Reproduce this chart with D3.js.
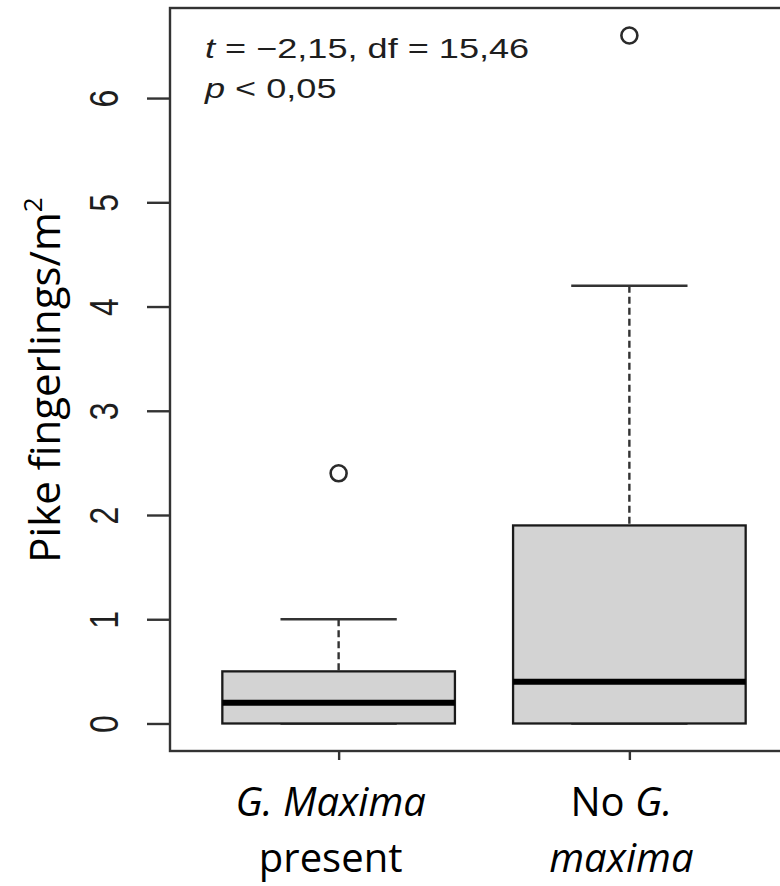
<!DOCTYPE html>
<html>
<head>
<meta charset="utf-8">
<script src="https://cdn.jsdelivr.net/npm/d3@7"></script>
<style>
  body { margin: 0; background: #fff; }
  svg { display: block; }
</style>
</head>
<body>
<div id="chart"></div>
<script>
// box stats per group
var groups = [1, 2];
var lowWhisker = [0, 0];
var q1 = [0, 0];
var medians = [0.2, 0.4];
var q3 = [0.5, 1.9];
var highWhisker = [1.0, 4.2];
var outliers = [[2.4], [6.6]];
var yTicks = [0, 1, 2, 3, 4, 5, 6];

// x labels: lines of (text, italic) pieces
var xLabels = [
    [[["G. Maxima", true]], [["present", false]]],
    [[["No ", false], ["G.", true]], [["maxima", true]]]
];
var statLines = [
    [["t", true], [" = \u22122,15, df = 15,46", false]],
    [["p", true], [" < 0,05", false]]
];

var w = 780, h = 886;
var stretch = 1.29; // the R output was widened a bit

var svg = d3.select("#chart").append("svg")
    .attr("width", w)
    .attr("height", h);

var x = d3.scaleLinear().domain([0.42, 2.58]).range([170, 798]);
var y = d3.scaleLinear().domain([-0.264, 6.864]).range([751, 8]);

var data = groups.map(function(g, i) {
    return {g: g, lo: lowWhisker[i], q1: q1[i], med: medians[i], q3: q3[i], hi: highWhisker[i], out: outliers[i]};
});

var boxW = x(1.4) - x(1);   // half of 0.8
var capW = x(1.2) - x(1);   // half of 0.4

var boxes = svg.append("g").selectAll("g")
    .data(data)
    .enter().append("g");

// whiskers
boxes.append("line")
    .attr("x1", function(d) { return x(d.g); })
    .attr("x2", function(d) { return x(d.g); })
    .attr("y1", function(d) { return y(d.hi); })
    .attr("y2", function(d) { return y(d.q3); })
    .attr("stroke", "#333")
    .attr("stroke-width", 2.4)
    .attr("stroke-dasharray", "7,4");
boxes.append("line")
    .attr("x1", function(d) { return x(d.g); })
    .attr("x2", function(d) { return x(d.g); })
    .attr("y1", function(d) { return y(d.lo); })
    .attr("y2", function(d) { return y(d.q1); })
    .attr("stroke", "#333")
    .attr("stroke-width", 2.4)
    .attr("stroke-dasharray", "7,4");

// caps
[["hi"], ["lo"]].forEach(function(k) {
    boxes.append("line")
        .attr("x1", function(d) { return x(d.g) - capW; })
        .attr("x2", function(d) { return x(d.g) + capW; })
        .attr("y1", function(d) { return y(d[k[0]]); })
        .attr("y2", function(d) { return y(d[k[0]]); })
        .attr("stroke", "#333")
        .attr("stroke-width", 2.6);
});

boxes.append("rect")
    .attr("x", function(d) { return x(d.g) - boxW; })
    .attr("width", 2 * boxW)
    .attr("y", function(d) { return y(d.q3); })
    .attr("height", function(d) { return y(d.q1) - y(d.q3); })
    .attr("fill", "#d3d3d3")
    .attr("stroke", "#1a1a1a")
    .attr("stroke-width", 2.3);

boxes.append("line")
    .attr("x1", function(d) { return x(d.g) - boxW; })
    .attr("x2", function(d) { return x(d.g) + boxW; })
    .attr("y1", function(d) { return y(d.med); })
    .attr("y2", function(d) { return y(d.med); })
    .attr("stroke", "#000")
    .attr("stroke-width", 6);

boxes.selectAll("circle")
    .data(function(d) { return d.out.map(function(v) { return {g: d.g, v: v}; }); })
    .enter().append("circle")
    .attr("cx", function(d) { return x(d.g); })
    .attr("cy", function(d) { return y(d.v); })
    .attr("r", 8)
    .attr("fill", "none")
    .attr("stroke", "#2a2a2a")
    .attr("stroke-width", 2.6);

// frame (right side runs off the picture)
svg.append("rect")
    .attr("x", x.range()[0])
    .attr("y", y.range()[1])
    .attr("width", x.range()[1] - x.range()[0])
    .attr("height", y.range()[0] - y.range()[1])
    .attr("fill", "none")
    .attr("stroke", "#333")
    .attr("stroke-width", 2.4);

// y axis
var yAxis = svg.append("g")
    .attr("transform", "translate(" + x.range()[0] + ",0)")
    .call(d3.axisLeft(y).tickValues(yTicks).tickSize(23));
yAxis.select(".domain").remove();
yAxis.selectAll(".tick line").attr("stroke", "#333").attr("stroke-width", 2.4);
yAxis.selectAll(".tick text")
    .attr("x", null)
    .attr("dy", null)
    .attr("text-anchor", "middle")
    .attr("transform", "translate(-52,0) scale(" + stretch + ",1) rotate(-90)")
    .attr("fill", "#1e1e1e")
    .style("font-family", "'Liberation Sans', Arial, sans-serif")
    .style("font-size", "32px");

// x axis ticks only
var xAxis = svg.append("g")
    .attr("transform", "translate(0," + y.range()[0] + ")")
    .call(d3.axisBottom(x).tickValues(groups).tickSize(9).tickFormat(""));
xAxis.select(".domain").remove();
xAxis.selectAll(".tick line").attr("stroke", "#333").attr("stroke-width", 2.4);

// x labels
var lineY = [816, 872];
xLabels.forEach(function(lines, i) {
    lines.forEach(function(parts, j) {
        var t = svg.append("text")
            .attr("x", x(groups[i]) - 8)
            .attr("y", lineY[j])
            .attr("text-anchor", "middle")
            .style("font-family", "'Open Sans', sans-serif")
            .style("font-size", "40px")
            .attr("fill", "#000");
        parts.forEach(function(p) {
            t.append("tspan")
                .style("font-style", p[1] ? "italic" : "normal")
                .text(p[0]);
        });
    });
});

// y title
var yt = svg.append("text")
    .attr("transform", "translate(60,380) rotate(-90)")
    .attr("text-anchor", "middle")
    .style("font-family", "'Open Sans', sans-serif")
    .style("font-size", "42px")
    .attr("fill", "#000");
yt.append("tspan").text("Pike fingerlings/m");
yt.append("tspan")
    .attr("baseline-shift", "super")
    .style("font-size", "26px")
    .text("2");

// test result
statLines.forEach(function(parts, j) {
    var t = svg.append("text")
        .attr("transform", "translate(205," + (58 + 40 * j) + ") scale(" + stretch + ",1)")
        .style("font-family", "'Liberation Sans', Arial, sans-serif")
        .style("font-size", "28px")
        .attr("fill", "#1e1e1e");
    parts.forEach(function(p) {
        t.append("tspan")
            .style("font-style", p[1] ? "italic" : "normal")
            .text(p[0]);
    });
});
</script>
</body>
</html>
